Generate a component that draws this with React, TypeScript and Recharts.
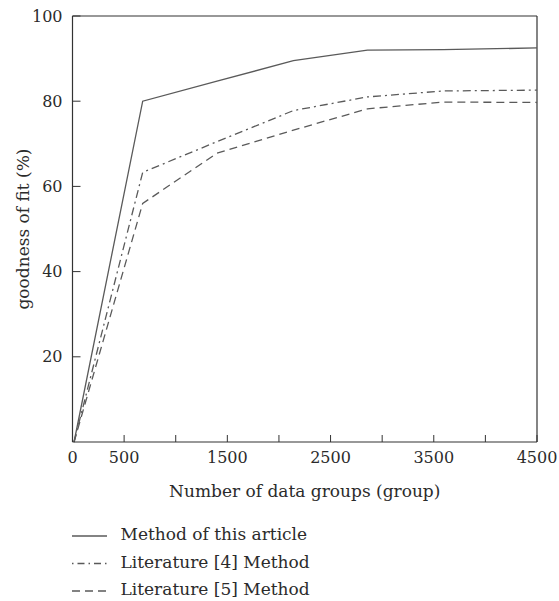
import React from "react";
import { LineChart, Line, XAxis, YAxis, ReferenceLine } from "recharts";

const xValues = [15, 680, 1400, 2140, 2857, 3590, 4500];
const methodThis = [0, 80, 84.7, 89.5, 92, 92.1, 92.5];
const literature4 = [0, 63.3, 70.5, 77.8, 81, 82.4, 82.6];
const literature5 = [0, 56, 67.8, 73.2, 78.2, 79.8, 79.7];

const xTicks = [0, 500, 1000, 1500, 2000, 2500, 3000, 3500, 4000, 4500];
const xLabelled = [0, 500, 1500, 2500, 3500, 4500];
const yTicks = [20, 40, 60, 80, 100];

const seriesNames = ["Method of this article", "Literature [4] Method", "Literature [5] Method"];

const data = xValues.map((x, i) => ({
  x,
  a: methodThis[i],
  b: literature4[i],
  c: literature5[i],
}));

const FONT = "'DejaVu Serif', serif";
const TEXT = "#2b2b2b";
const AXIS = "#333";
const LINE = "#5a5a5a";

const dashes = [undefined, "8 4 2 4", "8 5"];

export default function App() {
  return (
    <div style={{ position: "absolute", left: 0, top: 0, width: 559, height: 601, background: "#fff" }}>
      <LineChart
        width={559}
        height={601}
        data={data}
        margin={{ top: 16, right: 22, bottom: 99, left: 0 }}
      >
        <XAxis
          dataKey="x"
          type="number"
          domain={[0, 4500]}
          ticks={xTicks}
          interval={0}
          height={60}
          tickSize={-7}
          tickMargin={17}
          stroke={AXIS}
          axisLine={{ stroke: AXIS, strokeWidth: 1.2 }}
          tickLine={{ stroke: AXIS }}
          tick={{ fill: TEXT, fontFamily: FONT, fontSize: 16 }}
          tickFormatter={(v: number) => (xLabelled.includes(v) ? String(v) : "")}
          label={{
            value: "Number of data groups (group)",
            position: "insideBottom",
            offset: 5,
            style: { fill: TEXT, fontFamily: FONT, fontSize: 17, textAnchor: "middle" },
          }}
        />
        <YAxis
          type="number"
          domain={[0, 100]}
          ticks={yTicks}
          interval={0}
          width={72.5}
          tickSize={-8}
          tickMargin={18}
          stroke={AXIS}
          axisLine={{ stroke: AXIS, strokeWidth: 1.2 }}
          tickLine={{ stroke: AXIS }}
          tick={{ fill: TEXT, fontFamily: FONT, fontSize: 16 }}
          label={{
            value: "goodness of fit (%)",
            angle: -90,
            position: "insideLeft",
            offset: 23,
            style: { fill: TEXT, fontFamily: FONT, fontSize: 17, textAnchor: "middle" },
          }}
        />
        <ReferenceLine y={100} stroke={AXIS} strokeWidth={1.2} />
        <ReferenceLine x={4500} stroke={AXIS} strokeWidth={1.2} />
        <Line dataKey="a" stroke={LINE} strokeWidth={1.3} dot={false} isAnimationActive={false} />
        <Line dataKey="b" stroke={LINE} strokeWidth={1.3} strokeDasharray={dashes[1]} dot={false} isAnimationActive={false} />
        <Line dataKey="c" stroke={LINE} strokeWidth={1.3} strokeDasharray={dashes[2]} dot={false} isAnimationActive={false} />
      </LineChart>
      <svg
        width={559}
        height={90}
        style={{ position: "absolute", left: 0, top: 511 }}
      >
        {seriesNames.map((name, i) => (
          <g key={name} transform={`translate(0, ${i * 27.5})`}>
            <line
              x1={72}
              x2={107}
              y1={25}
              y2={25}
              stroke={LINE}
              strokeWidth={1.3}
              strokeDasharray={i === 1 ? "1.5 4 7 4" : dashes[i]}
            />
            <text x={120.5} y={29} fill={TEXT} fontFamily={FONT} fontSize={17}>
              {name}
            </text>
          </g>
        ))}
      </svg>
    </div>
  );
}
